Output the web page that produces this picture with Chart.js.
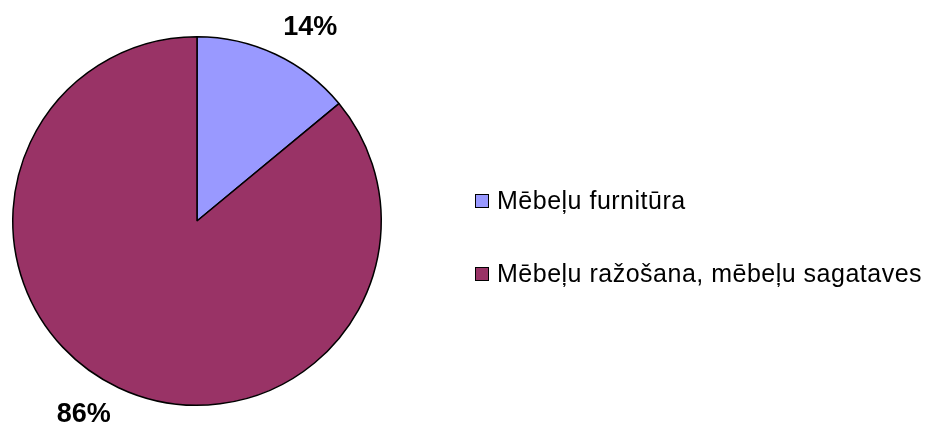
<!DOCTYPE html>
<html>
<head>
<meta charset="utf-8">
<script src="https://cdn.jsdelivr.net/npm/chart.js@4.4.0/dist/chart.umd.min.js"></script>
<style>
  html, body { margin: 0; padding: 0; background: #ffffff; }
  #wrap { width: 938px; height: 429px; position: relative; }
</style>
</head>
<body>
<div id="wrap"><canvas id="pie"></canvas></div>
<script>
// categories and values
const categories = ['Mēbeļu furnitūra', 'Mēbeļu ražošana, mēbeļu sagataves'];
const shares = [14, 86];
const sliceColors = ['#9999FF', '#993366'];

const FONT = '"Liberation Sans", Arial, sans-serif';

// percent labels outside the pie, a bit past the middle of each slice
const pctLabels = {
  id: 'pctLabels',
  afterDatasetsDraw(chart) {
    const ctx = chart.ctx;
    const meta = chart.getDatasetMeta(0);
    const total = shares.reduce((a, b) => a + b, 0);
    ctx.save();
    ctx.font = 'bold 27px ' + FONT;
    ctx.fillStyle = '#000';
    ctx.textAlign = 'center';
    ctx.textBaseline = 'middle';
    meta.data.forEach((arc, i) => {
      const mid = (arc.startAngle + arc.endAngle) / 2 + 0.09;
      const r = arc.outerRadius + 40;
      const x = arc.x + Math.cos(mid) * r;
      const y = arc.y + Math.sin(mid) * r;
      ctx.fillText(Math.round(shares[i] / total * 100) + '%', x, y);
    });
    ctx.restore();
  }
};

// legend on the right, drawn by hand
const sideLegend = {
  id: 'sideLegend',
  afterDraw(chart) {
    const ctx = chart.ctx;
    ctx.save();
    ctx.font = '25px ' + FONT;
    ctx.letterSpacing = '0.5px';
    ctx.textBaseline = 'middle';
    categories.forEach((name, i) => {
      const y = 201 + i * 73;
      ctx.fillStyle = sliceColors[i];
      ctx.fillRect(475, y - 7, 13, 13);
      ctx.strokeStyle = '#000';
      ctx.lineWidth = 1;
      ctx.strokeRect(475.5, y - 6.5, 13, 13);
      ctx.fillStyle = '#000';
      ctx.fillText(name, 497, y + 1);
    });
    ctx.restore();
  }
};

new Chart(document.getElementById('pie'), {
  type: 'pie',
  plugins: [pctLabels, sideLegend],
  data: {
    labels: categories,
    datasets: [{
      data: shares,
      backgroundColor: sliceColors,
      borderColor: '#000000',
      borderWidth: 1.5
    }]
  },
  options: {
    responsive: true,
    maintainAspectRatio: false,
    animation: false,
    layout: { padding: { left: 12, right: 556, top: 36, bottom: 23 } },
    plugins: {
      legend: { display: false },
      tooltip: { enabled: false }
    }
  }
});
</script>
</body>
</html>
